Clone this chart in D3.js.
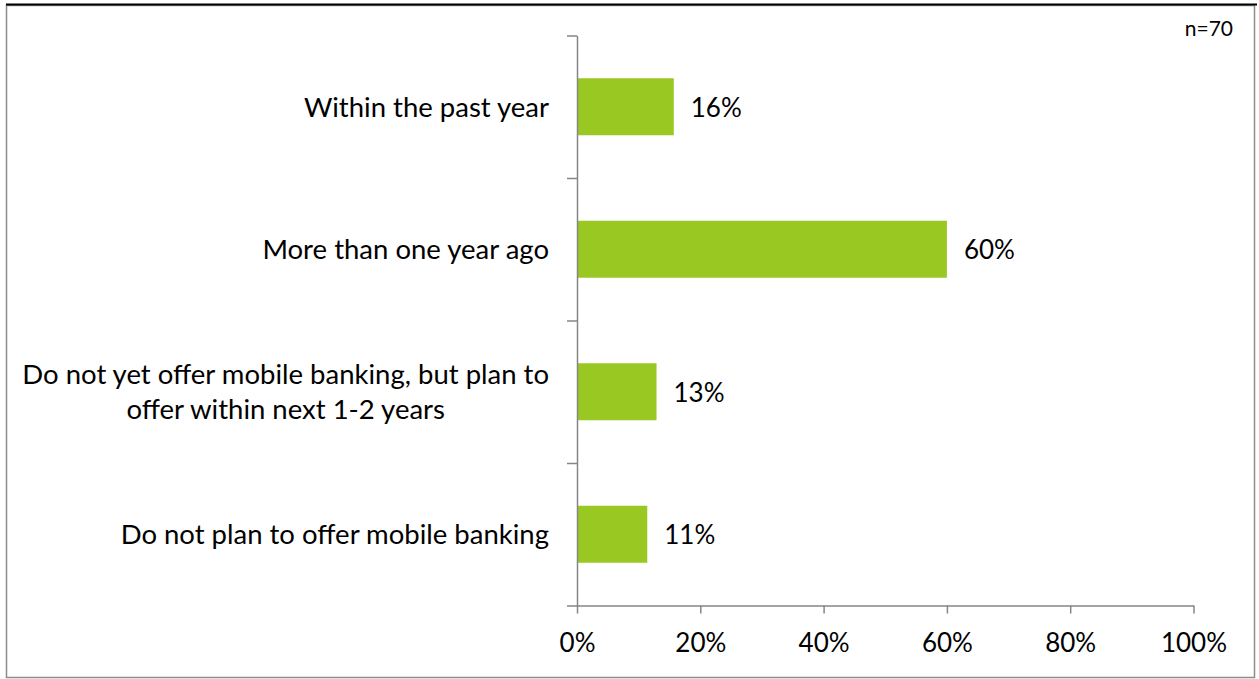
<!DOCTYPE html>
<html>
<head>
<meta charset="utf-8">
<script src="https://cdn.jsdelivr.net/npm/d3@7"></script>
<style>
  body { margin: 0; background: #fff; }
  svg { display: block; }
  text { font-family: Lato, "Open Sans", sans-serif; fill: #000; }
</style>
</head>
<body>
<svg id="chart" width="1259" height="679"></svg>
<script>
// Survey: when did the institution start offering mobile banking (n=70)
const categories = [
  "Within the past year",
  "More than one year ago",
  "Do not yet offer mobile banking, but plan to offer within next 1-2 years",
  "Do not plan to offer mobile banking"
];
const categoryLines = [
  ["Within the past year"],
  ["More than one year ago"],
  ["Do not yet offer mobile banking, but plan to", "offer within next 1-2 years"],
  ["Do not plan to offer mobile banking"]
];
const shares = [0.157, 0.600, 0.129, 0.114];
const xTicks = [0, 0.2, 0.4, 0.6, 0.8, 1.0];
const sampleNote = "n=70";

const FONT = 26;        // numbers: tick and value labels
const LABEL_FONT = 27.5; // category labels
const svg = d3.select("#chart");

// outer chart frame
svg.append("rect")
  .attr("x", 6.5).attr("y", 5.5).attr("width", 1248).attr("height", 672)
  .attr("fill", "#fff").attr("stroke", "#8c8c8c").attr("stroke-width", 1.5);
svg.append("line")
  .attr("x1", 6).attr("x2", 1257).attr("y1", 4.5).attr("y2", 4.5)
  .attr("stroke", "#000").attr("stroke-width", 2);

const x = d3.scaleLinear().domain([0, 1]).range([577, 1193.5]);
const y = d3.scaleBand().domain(categories).range([35.5, 605.5])
  .paddingInner(0.6).paddingOuter(0.3);

const axisColor = "#868686";

// bars
svg.append("g").selectAll("rect")
  .data(categories)
  .join("rect")
  .attr("x", x(0))
  .attr("y", d => y(d))
  .attr("width", (d, i) => x(shares[i]) - x(0))
  .attr("height", y.bandwidth())
  .attr("fill", "#9ac823");

// value labels
svg.append("g").selectAll("text")
  .data(categories)
  .join("text")
  .attr("x", (d, i) => x(shares[i]) + 17)
  .attr("y", d => y(d) + y.bandwidth() / 2 + 10)
  .attr("font-size", FONT)
  .text((d, i) => d3.format(".0%")(shares[i]));

// y axis: category boundary ticks
const bounds = d3.scaleLinear().domain([0, categories.length]).range([35.5, 605.5]);
const yAxis = svg.append("g")
  .attr("transform", `translate(${x(0)},0)`)
  .call(d3.axisLeft(bounds).ticks(categories.length).tickFormat("").tickSizeInner(10).tickSizeOuter(0));
yAxis.selectAll("path, line").attr("stroke", axisColor).attr("stroke-width", 1.5);

// x axis
const xAxis = svg.append("g")
  .attr("transform", "translate(0,605.5)")
  .call(d3.axisBottom(x).tickValues(xTicks).tickFormat(d3.format(".0%")).tickSizeInner(8).tickSizeOuter(0));
xAxis.selectAll("path, line").attr("stroke", axisColor).attr("stroke-width", 1.5);
xAxis.attr("font-family", null).attr("font-size", null);
xAxis.selectAll("text")
  .attr("y", 46).attr("dy", 0)
  .attr("font-size", FONT)
  .attr("fill", "#000");

// category labels (multi-line entries centred within their block)
const labelRight = 549;
const lineGap = 35;
categories.forEach((c, i) => {
  const lines = categoryLines[i];
  const cy = y(c) + y.bandwidth() / 2;
  const g = svg.append("g");
  const texts = lines.map((ln, j) => g.append("text")
    .attr("font-size", LABEL_FONT)
    .attr("y", cy + 10 + (j - (lines.length - 1) / 2) * lineGap)
    .text(ln));
  const maxW = d3.max(texts, t => t.node().getComputedTextLength());
  texts.forEach(t => t.attr("x", labelRight - maxW / 2).attr("text-anchor", "middle"));
});

// sample size note
svg.append("text")
  .attr("x", 1233).attr("y", 36)
  .attr("text-anchor", "end")
  .attr("font-size", 21)
  .text(sampleNote);
</script>
</body>
</html>
